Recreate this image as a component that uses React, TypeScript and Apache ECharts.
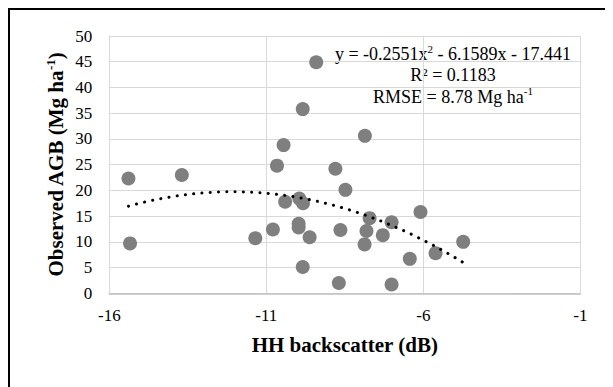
import React, { useEffect, useRef } from "react";
import * as echarts from "echarts";

// Observed points: HH backscatter (dB) and observed AGB (Mg ha-1)
const HH_DB = [
  -15.39, -15.34, -13.69, -11.35, -10.79, -10.66, -10.45, -10.4, -9.95, -9.83,
  -9.97, -9.97, -9.84, -9.62, -9.84, -9.41, -8.8, -8.48, -8.64, -8.69,
  -7.86, -7.71, -7.81, -7.87, -7.01, -7.29, -7.01, -6.09, -6.43, -5.61, -4.73,
];
const AGB = [
  22.3, 9.7, 23.0, 10.7, 12.4, 24.8, 28.8, 17.8, 18.4, 17.5,
  13.5, 12.8, 35.8, 10.9, 5.1, 44.9, 24.2, 20.1, 12.3, 2.0,
  30.6, 14.6, 12.1, 9.5, 13.8, 11.3, 1.7, 15.8, 6.7, 7.8, 10.0,
];

// Polynomial trendline shown in the chart: y = a x^2 + b x + c
const TREND_COEFFS = [-0.2551, -6.1589, -17.441];
const TREND_RANGE = [-15.39, -4.73];
const TREND_STEPS = 120;

const X_TICKS = [-16, -11, -6, -1];
const Y_TICKS_MAX = 50;

const FONT = "Liberation Serif";

export default function App() {
  const ref = useRef<HTMLDivElement>(null);

  useEffect(() => {
    if (!ref.current) return;
    const chart = echarts.init(ref.current, null, { renderer: "svg" });

    const points = HH_DB.map((x, i) => [x, AGB[i]]);
    const [a, b, c] = TREND_COEFFS;
    const trend: number[][] = [];
    for (let i = 0; i <= TREND_STEPS; i++) {
      const x = TREND_RANGE[0] + ((TREND_RANGE[1] - TREND_RANGE[0]) * i) / TREND_STEPS;
      trend.push([x, a * x * x + b * x + c]);
    }

    const eqStyle = {
      fontFamily: FONT,
      fontSize: 18,
      fill: "#000",
      textAlign: "center",
      textVerticalAlign: "middle",
      rich: {
        n: { fontFamily: FONT, fontSize: 18, lineHeight: 20, verticalAlign: "bottom", fill: "#000" },
        s: { fontFamily: FONT, fontSize: 11, lineHeight: 12, verticalAlign: "top", fill: "#000" },
      },
    };

    const tickLabel = {
      fontFamily: FONT,
      fontSize: 17,
      color: "#000",
      fontWeight: "normal",
    };

    chart.setOption({
      animation: false,
      textStyle: { fontFamily: FONT, fontSize: 17, color: "#000" },
      grid: { left: 99.3, right: 32.7, top: 26, bottom: 93.7 },
      xAxis: {
        type: "value",
        min: X_TICKS[0],
        max: X_TICKS[X_TICKS.length - 1],
        interval: 5,
        name: "HH backscatter (dB)",
        nameLocation: "middle",
        nameGap: 41,
        nameMoveOverlap: false,
        nameTextStyle: { fontFamily: FONT, fontSize: 21, fontWeight: "bold", color: "#000" },
        axisLine: { show: true, lineStyle: { color: "#bfbfbf", width: 1.5 } },
        axisTick: { show: false },
        axisLabel: { ...tickLabel, margin: 14 },
        splitLine: { show: true, lineStyle: { color: "#d9d9d9", width: 1 } },
      },
      yAxis: {
        type: "value",
        min: 0,
        max: Y_TICKS_MAX,
        interval: 5,
        name: "{b|Observed AGB (Mg ha}{s|-1}{b|)}",
        nameLocation: "middle",
        nameRotate: 90,
        nameGap: 43,
        nameMoveOverlap: false,
        nameTextStyle: {
          fontFamily: FONT,
          fontSize: 21,
          fontWeight: "bold",
          color: "#000",
          rich: {
            b: { fontFamily: FONT, fontSize: 21, fontWeight: "bold", color: "#000", lineHeight: 22, verticalAlign: "bottom" },
            s: { fontFamily: FONT, fontSize: 13, fontWeight: "bold", color: "#000", lineHeight: 13, verticalAlign: "top" },
          },
        },
        axisLine: { show: false },
        axisTick: { show: false },
        axisLabel: { ...tickLabel, margin: 17 },
        splitLine: { show: true, lineStyle: { color: "#d9d9d9", width: 1 } },
      },
      series: [
        {
          type: "scatter",
          data: points,
          symbol: "circle",
          symbolSize: 14,
          itemStyle: { color: "#7f7f7f", opacity: 1 },
          z: 2,
        },
        {
          type: "line",
          data: trend,
          showSymbol: false,
          symbol: "none",
          smooth: false,
          lineStyle: { color: "#000", width: 3, type: [0.1, 8.2], cap: "round" },
          z: 3,
          silent: true,
        },
      ],
      graphic: [
        {
          type: "text",
          x: 443,
          y: 43,
          style: { ...eqStyle, text: "{n|y = -0.2551x}{s|2}{n| - 6.1589x - 17.441}" },
        },
        {
          type: "text",
          x: 443,
          y: 64,
          style: { ...eqStyle, text: "{n|R² = 0.1183}" },
        },
        {
          type: "text",
          x: 443,
          y: 85.7,
          style: { ...eqStyle, text: "{n|RMSE = 8.78 Mg ha}{s|-1}" },
        },
      ],
    });

    return () => chart.dispose();
  }, []);

  return (
    <div
      style={{
        width: 605,
        height: 379,
        borderTop: "2px solid #000",
        borderLeft: "2px solid #000",
        boxSizing: "border-box",
        overflow: "hidden",
      }}
    >
      <div ref={ref} style={{ width: 603, height: 377 }} />
    </div>
  );
}
